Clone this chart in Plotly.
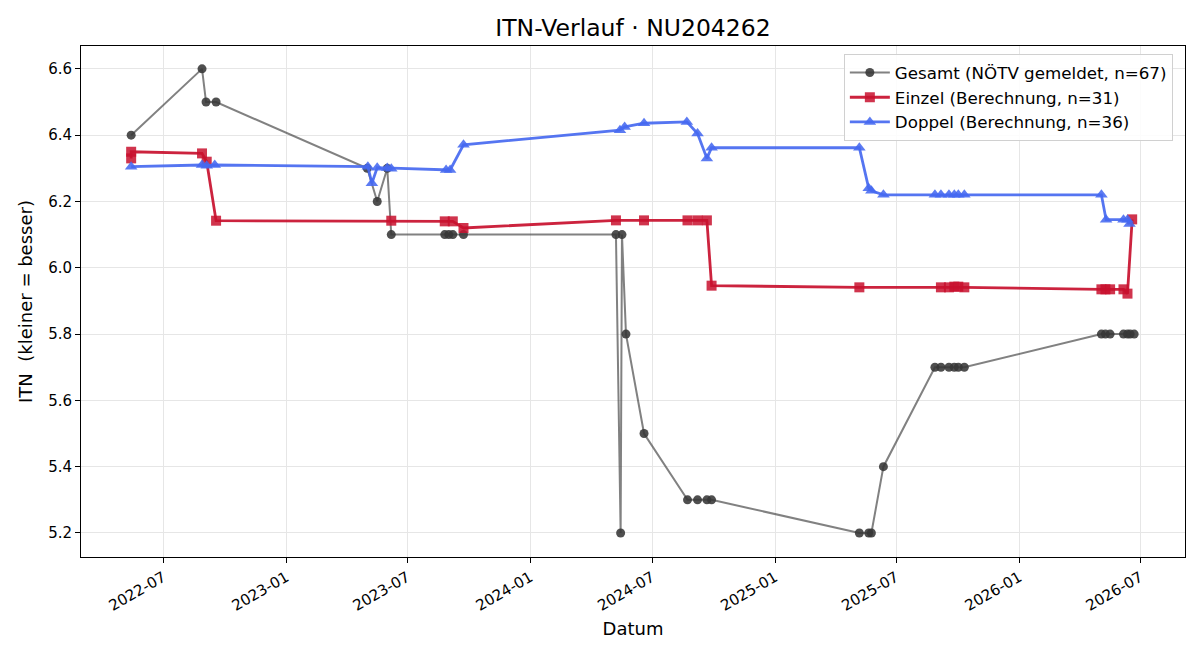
import plotly.graph_objects as go

# ---- data ----
gesamt_dates = ["2022-05-14", "2022-08-28", "2022-09-03", "2022-09-18", "2023-05-02", "2023-05-17",
                "2023-06-01", "2023-06-07", "2023-08-26", "2023-09-01", "2023-09-07", "2023-09-23",
                "2024-05-08", "2024-05-15", "2024-05-17", "2024-05-23", "2024-06-19", "2024-08-23",
                "2024-09-07", "2024-09-21", "2024-09-28", "2025-05-07", "2025-05-21", "2025-05-25",
                "2025-06-12", "2025-08-28", "2025-09-06", "2025-09-18", "2025-09-26", "2025-10-02",
                "2025-10-11", "2026-05-04", "2026-05-10", "2026-05-17", "2026-06-06", "2026-06-12",
                "2026-06-16", "2026-06-22"]
gesamt_itn = [6.4, 6.6, 6.5, 6.5, 6.3, 6.2, 6.3, 6.1, 6.1, 6.1, 6.1, 6.1,
              6.1, 5.2, 6.1, 5.8, 5.5, 5.3, 5.3, 5.3, 5.3, 5.2, 5.2, 5.2,
              5.4, 5.7, 5.7, 5.7, 5.7, 5.7, 5.7, 5.8, 5.8, 5.8, 5.8, 5.8,
              5.8, 5.8]

einzel_dates = ["2022-05-14", "2022-05-14", "2022-08-28", "2022-09-04", "2022-09-18", "2023-06-07",
                "2023-08-26", "2023-09-07", "2023-09-23", "2024-05-08", "2024-06-19", "2024-08-23",
                "2024-09-07", "2024-09-21", "2024-09-28", "2025-05-07", "2025-09-06", "2025-09-18",
                "2025-09-26", "2025-10-02", "2025-10-11", "2026-05-04", "2026-05-10", "2026-05-17",
                "2026-06-06", "2026-06-12", "2026-06-19"]
einzel_itn = [6.33, 6.35, 6.345, 6.32, 6.142, 6.142,
              6.14, 6.14, 6.12, 6.143, 6.143, 6.143,
              6.143, 6.143, 5.946, 5.941, 5.941, 5.941,
              5.943, 5.943, 5.941, 5.935, 5.935, 5.935,
              5.935, 5.922, 6.146]

doppel_dates = ["2022-05-14", "2022-08-28", "2022-09-04", "2022-09-16", "2023-05-03", "2023-05-09",
                "2023-05-17", "2023-06-01", "2023-06-07", "2023-08-28", "2023-09-03", "2023-09-23",
                "2024-05-14", "2024-05-21", "2024-06-19", "2024-08-22", "2024-09-07", "2024-09-21",
                "2024-09-28", "2025-05-07", "2025-05-21", "2025-05-25", "2025-06-12", "2025-08-28",
                "2025-09-06", "2025-09-18", "2025-09-26", "2025-10-02", "2025-10-11", "2026-05-04",
                "2026-05-11", "2026-06-06", "2026-06-12", "2026-06-15"]
doppel_itn = [6.305, 6.31, 6.308, 6.31, 6.305, 6.255,
              6.302, 6.301, 6.299, 6.295, 6.295, 6.371,
              6.415, 6.425, 6.436, 6.44, 6.405, 6.33,
              6.362, 6.362, 6.24, 6.232, 6.22, 6.22,
              6.22, 6.22, 6.22, 6.22, 6.22, 6.22,
              6.145, 6.145, 6.145, 6.132]

x_ticks = ["2022-07-01", "2023-01-01", "2023-07-01", "2024-01-01", "2024-07-01",
           "2025-01-01", "2025-07-01", "2026-01-01", "2026-07-01"]
x_tick_text = ["2022-07", "2023-01", "2023-07", "2024-01", "2024-07",
               "2025-01", "2025-07", "2026-01", "2026-07"]
y_ticks = [5.2, 5.4, 5.6, 5.8, 6.0, 6.2, 6.4, 6.6]

FONT = "DejaVu Sans"

fig = go.Figure()
fig.add_trace(go.Scatter(
    x=gesamt_dates, y=gesamt_itn, mode="lines+markers",
    name="Gesamt (NÖTV gemeldet, n=67)",
    line=dict(color="rgba(70,70,70,0.68)", width=2),
    marker=dict(symbol="circle", size=9, color="rgba(55,55,55,0.88)",
                line=dict(width=0)),
))
fig.add_trace(go.Scatter(
    x=einzel_dates, y=einzel_itn, mode="lines+markers",
    name="Einzel (Berechnung, n=31)",
    line=dict(color="rgba(200,16,46,0.92)", width=2.8),
    marker=dict(symbol="square", size=10, color="rgba(200,16,46,0.85)",
                line=dict(width=0)),
))
fig.add_trace(go.Scatter(
    x=doppel_dates, y=doppel_itn, mode="lines+markers",
    name="Doppel (Berechnung, n=36)",
    line=dict(color="rgba(70,105,240,0.92)", width=2.8),
    marker=dict(symbol="triangle-up", size=11, color="rgba(70,105,240,0.88)",
                line=dict(width=0)),
))

fig.update_layout(
    width=1200, height=660,
    margin=dict(l=81, r=15, t=46, b=103),
    paper_bgcolor="white", plot_bgcolor="white",
    font=dict(family=FONT, size=15, color="black"),
    title=dict(text="ITN-Verlauf · NU204262", x=0.5275, xanchor="center",
               y=1 - 28 / 660, yanchor="middle", yref="container",
               font=dict(family=FONT, size=23.5, color="black")),
    showlegend=True,
    legend=dict(x=0.989, y=0.984, xanchor="right", yanchor="top",
                bgcolor="rgba(255,255,255,0.85)", bordercolor="#d0d0d0",
                borderwidth=1, font=dict(family=FONT, size=16.7),
                tracegroupgap=0, itemwidth=40),
)
fig.update_xaxes(
    type="date", range=["2022-02-28", "2026-09-06"],
    tickvals=x_ticks, ticktext=x_tick_text, tickangle=-30,
    showline=True, mirror=True, linecolor="black", linewidth=1,
    ticks="outside", ticklen=5, tickcolor="black",
    showgrid=True, gridcolor="#e6e6e6", gridwidth=1, zeroline=False,
    tickfont=dict(family=FONT, size=15),
    title=dict(text="Datum", font=dict(family=FONT, size=18), standoff=8),
)
fig.update_yaxes(
    range=[5.1275, 6.669], tickvals=y_ticks, tickformat=".1f",
    showline=True, mirror=True, linecolor="black", linewidth=1,
    ticks="outside", ticklen=5, tickcolor="black",
    showgrid=True, gridcolor="#e6e6e6", gridwidth=1, zeroline=False,
    tickfont=dict(family=FONT, size=15),
    title=dict(text="ITN  (kleiner = besser)", font=dict(family=FONT, size=18), standoff=10),
)

fig.write_html("out.html")
